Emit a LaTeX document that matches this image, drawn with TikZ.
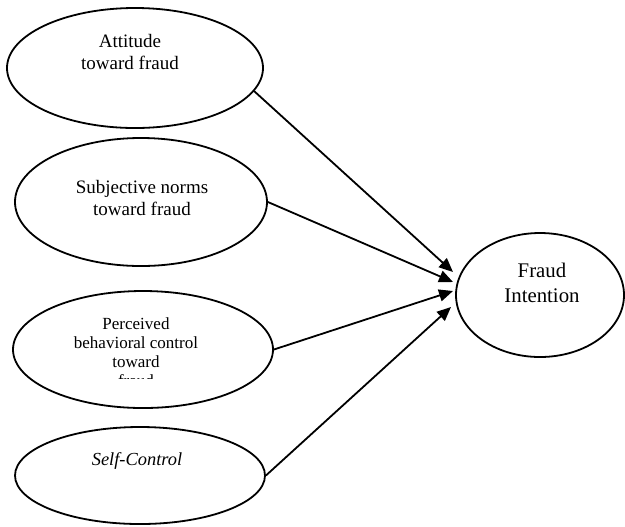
\documentclass[tikz,border=0pt]{standalone}
\usepackage{fontspec}
\setmainfont{Liberation Serif}
\usetikzlibrary{shapes.geometric,arrows.meta}

\begin{document}
\begin{tikzpicture}[x=0.5pt,y=-0.5pt,
      oval/.style={ellipse,draw,line width=0.9pt,inner sep=0pt},
      txt/.style={align=center,inner sep=0pt,font=\fontsize{9.5}{11}\selectfont},
      arr/.style={-{Triangle[length=7pt,width=6pt]},line width=0.9pt}]
    \useasboundingbox (0,0) rectangle (625,526);

    % predictors
    \node[oval,minimum width=128pt,minimum height=60pt]   (att)  at (135,68) {};
    \node[oval,minimum width=126pt,minimum height=64pt]   (subj) at (141,202) {};
    \node[oval,minimum width=130pt,minimum height=58.5pt] (perc) at (143,349.5) {};
    \node[oval,minimum width=125pt,minimum height=48.5pt] (sc)   at (140,475.5) {};
    % outcome
    \node[oval,minimum width=84pt,minimum height=62pt]    (fi)   at (540,295) {};

    \node[txt] (attT)  at (130,52)  {Attitude\\toward fraud};
    \node[txt] (subjT) at (142,198) {Subjective norms\\toward fraud};
    \begin{scope}
      \clip (0,0) rectangle (625,378);
      \node[txt,font=\fontsize{8.5}{9.5}\selectfont] (percT) at (136,352)
        {Perceived\\behavioral control\\toward\\fraud};
    \end{scope}
    \node[txt,font=\fontsize{9.2}{11}\selectfont\itshape] (scT) at (137,461) {Self-Control};
    \node[txt,font=\fontsize{10.4}{12.5}\selectfont] (fiT) at (542,283) {Fraud\\Intention};

    \coordinate (t1) at (453,272);
    \coordinate (t2) at (453,282);
    \coordinate (t3) at (453,291);
    \coordinate (t4) at (451,307);

    \draw[arr] (att.-11) -- (t1);
    \draw[arr] (subj.east) -- (t2);
    \draw[arr] (perc.east) -- (t3);
    \draw[arr] (sc.east) -- (t4);
  \end{tikzpicture}
\end{document}
